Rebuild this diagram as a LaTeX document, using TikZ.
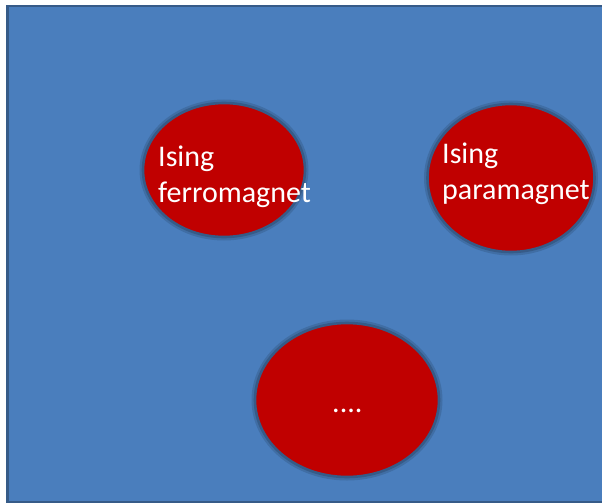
\documentclass[tikz,border=0pt]{standalone}
\usepackage{fontspec}
\setmainfont{Carlito}
\usetikzlibrary{shapes.geometric}
\definecolor{slideblue}{HTML}{4A7EBD}
\definecolor{edgeblue}{HTML}{365B88}
\definecolor{phasered}{HTML}{C00000}
\tikzset{
  phase/.style={ellipse, fill=phasered, draw=edgeblue, line width=2.6pt, inner sep=0pt},
  halo/.style={ellipse, draw=edgeblue!70!black, line width=5pt, opacity=0.25, inner sep=0pt},
  label/.style={text=white, font=\fontsize{30}{36}\selectfont, inner sep=0pt, align=left, anchor=base west}
}
\begin{document}
\begin{tikzpicture}[x=1pt, y=-1pt]
  \useasboundingbox (0,0) rectangle (602,503);
  % slide background
  \fill[white] (0,0) rectangle (602,503);
  \begin{scope}
    \clip (0,0) rectangle (602,503);
    \draw[fill=slideblue, draw=edgeblue, line width=2.8pt] (7.5,6) rectangle (660,502);
  \end{scope}
  % phases
  \node[halo, minimum width=164pt, minimum height=136pt] at (224,170) {};
  \node[phase, minimum width=162pt, minimum height=134pt] (ferro) at (224,170) {};
  \node[halo, minimum width=169pt, minimum height=150pt] at (511,178) {};
  \node[phase, minimum width=167pt, minimum height=148pt] (para) at (511,178) {};
  \node[halo, minimum width=186pt, minimum height=156pt] at (347,400) {};
  \node[phase, minimum width=184pt, minimum height=154pt] (other) at (347,400) {};
  % labels (anchored at the baseline of the last line)
  \node[label] (ferrotext) at (158,202) {Ising\\ferromagnet};
  \node[label] (paratext) at (442,199) {Ising\\paramagnet};
  \node[label] (othertext) at (332,412) {....};
\end{tikzpicture}
\end{document}
